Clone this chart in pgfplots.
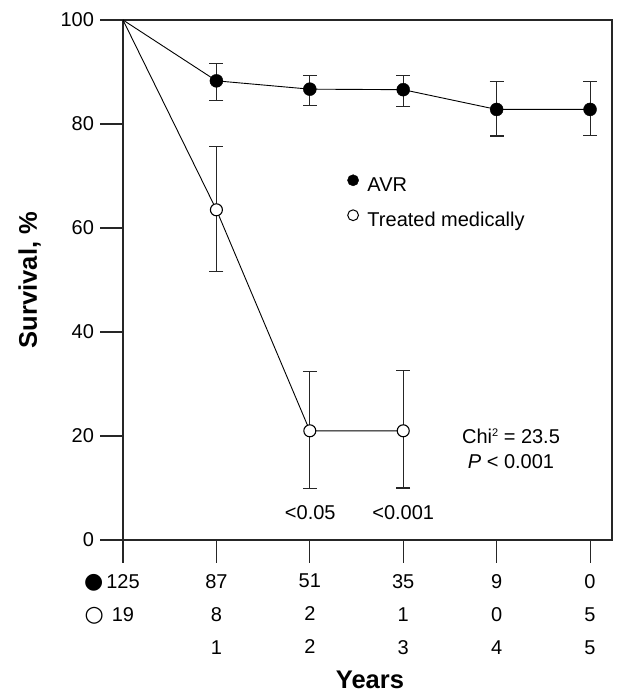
\documentclass[border=0pt]{standalone}
\usepackage{fontspec}
\setmainfont{Liberation Sans}
\newfontfamily\dejavu{DejaVu Sans}
\usepackage{pgfplots}
\pgfplotsset{compat=1.18}
\newcommand{\fs}{\fontsize{20}{22}\selectfont}
\newcommand{\symfs}{\dejavu\fontsize{22}{22}\selectfont}
\begin{document}
\begin{tikzpicture}
\useasboundingbox (-123pt,-153pt) rectangle (494pt,540pt);
\begin{axis}[
  at={(0pt,0pt)}, anchor=south west,
  scale only axis, width=489pt, height=520pt,
  xmin=0, xmax=5.235, ymin=0, ymax=100,
  clip=false,
  axis line style={line width=1.1pt, black!85},
  xtick={0,1,2,3,4,5}, ytick={0,20,40,60,80,100},
  tick align=outside, xtick pos=left, ytick pos=left,
  major tick length=22.5pt,
  tick style={line width=1.1pt, black!85},
  /pgf/number format/assume math mode=true,
  yticklabel style={font=\fs, xshift=-3pt},
  xticklabel style={font=\fontsize{20}{33}\selectfont, align=center, anchor=north, yshift=-8pt},
  xticklabels={{\llap{\symfs ●\hspace{3pt}}125\\\llap{\symfs ○\hspace{8pt}}19\\\strut},{87\\8\\1},{51\\2\\2},{35\\1\\3},{9\\0\\4},{0\\5\\5}},
  xlabel={Years},
  xlabel style={at={(axis description cs:0.505,-0.285)}, anchor=base, font=\bfseries\fontsize{25.5}{25.5}\selectfont},
  ylabel={Survival, \%},
  ylabel style={at={(axis description cs:-0.176,0.5)}, anchor=base, font=\bfseries\fontsize{25.5}{25.5}\selectfont},
  legend style={at={(axis cs:2.398,70.33)}, anchor=north west, draw=none, fill=none, inner sep=0pt, row sep=13.5pt,
    font=\fs, nodes={inner sep=0pt, text height=13.5pt, text depth=4pt}},
  legend cell align=left,
  /tikz/every odd column/.append style={column sep=8.5pt},
]
% connecting lines
\addplot[black, line width=0.9pt, forget plot] coordinates {(0,100) (1,88.3) (2,86.7) (3,86.6) (4,82.8) (5,82.8)};
\addplot[black, line width=0.9pt, forget plot] coordinates {(0,100) (1,63.5) (2,21.0) (3,21.0)};
% AVR
\addplot[only marks, mark=*, mark size=6.5pt, mark options={fill=black, draw=black},
  legend image code/.code={\draw[fill=black, draw=black] (5.5pt,6.8pt) circle (5.6pt);},
  error bars/.cd, y dir=both, y explicit,
  error bar style={line width=1.1pt, black!85},
  error mark options={line width=1.1pt, black!85, mark size=7pt, rotate=90}]
  coordinates {
  (1,88.3) += (0,3.4) -= (0,3.7)
  (2,86.7) += (0,2.7) -= (0,3.2)
  (3,86.6) += (0,2.7) -= (0,3.2)
  (4,82.8) += (0,5.3) -= (0,5.1)
  (5,82.8) += (0,5.3) -= (0,5.0)
  };
\addlegendentry{AVR}
% Treated medically
\addplot[only marks, mark=*, mark size=6pt, mark options={fill=white, draw=black, line width=1.1pt},
  legend image code/.code={\draw[fill=white, draw=black, line width=1pt] (5.5pt,6.8pt) circle (5.4pt);},
  error bars/.cd, y dir=both, y explicit,
  error bar style={line width=1.1pt, black!85},
  error mark options={line width=1.1pt, black!85, mark size=7pt, rotate=90}]
  coordinates {
  (1,63.5) += (0,12.1) -= (0,11.9)
  (2,21.0) += (0,11.4) -= (0,11.1)
  (3,21.0) += (0,11.6) -= (0,11.0)
  };
\addlegendentry{Treated medically}
\node[anchor=base, font=\fs] at (axis cs:2.005,3.85) {<0.05};
\node[anchor=base, font=\fs] at (axis cs:3.0,3.85) {<0.001};
\node[anchor=base, font=\fs] at (axis cs:4.154,18.6) {Chi\raisebox{6.5pt}{\fontsize{11}{11}\selectfont 2} = 23.5};
\node[anchor=base, font=\fs] at (axis cs:4.154,13.8) {\textit{P} < 0.001};
\end{axis}
\end{tikzpicture}
\end{document}
